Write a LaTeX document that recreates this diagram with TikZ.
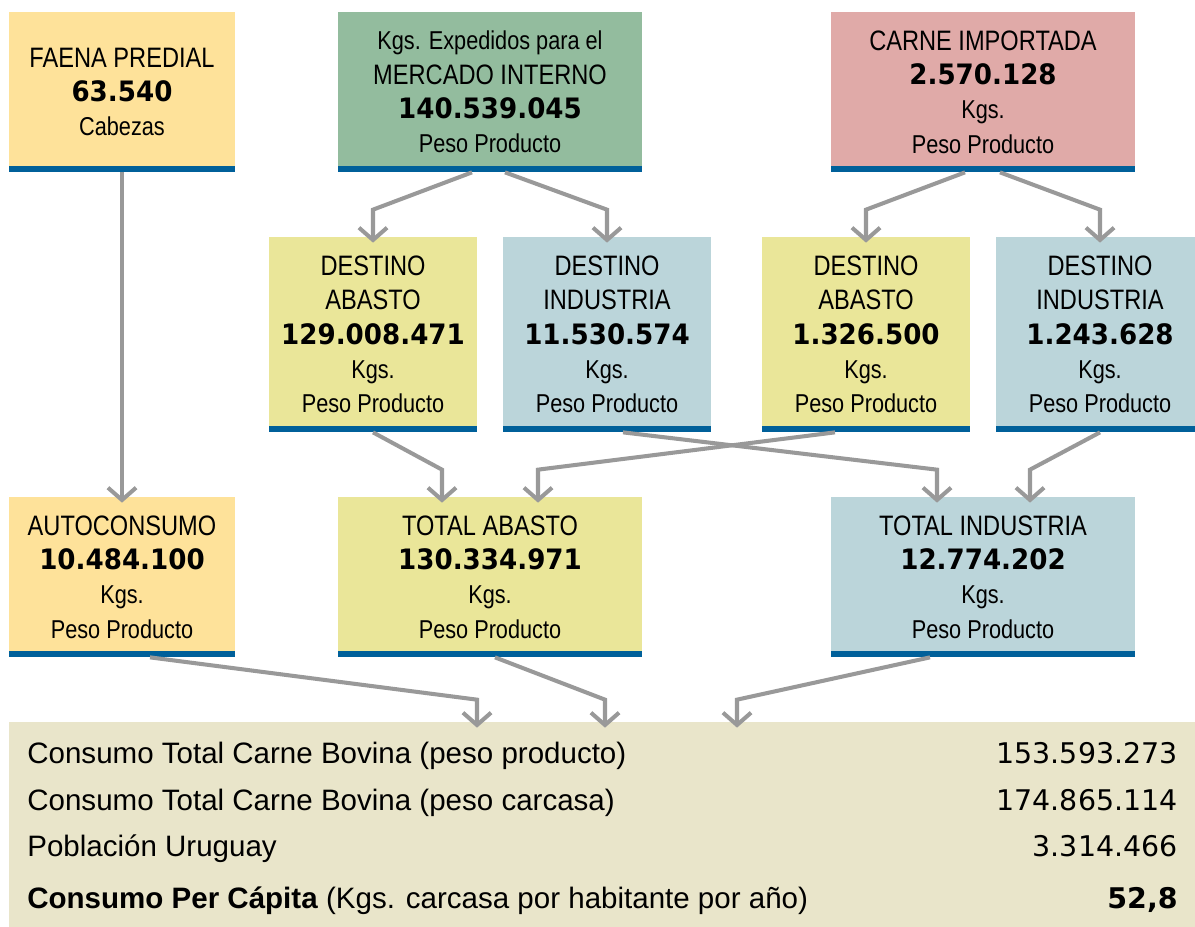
\documentclass[tikz,border=0pt]{standalone}
\usepackage{fontspec}
\setmainfont{Liberation Sans}[FakeStretch=0.84]
\newfontfamily\panelfont{Liberation Sans}
\newfontfamily\numfont{DejaVu Sans}[FakeStretch=0.93]
\newfontfamily\valfont{DejaVu Sans}
\usetikzlibrary{arrows.meta}

\definecolor{faenaorange}{HTML}{FEE29A}
\definecolor{mercgreen}{HTML}{93BC9E}
\definecolor{importpink}{HTML}{E0AAA8}
\definecolor{abastoyellow}{HTML}{EAE699}
\definecolor{indblue}{HTML}{BBD5DA}
\definecolor{barblue}{HTML}{00609A}
\definecolor{flowgray}{HTML}{999999}
\definecolor{panelbeige}{HTML}{E9E5CA}

\newcommand{\cifra}[1]{{\numfont\bfseries\fontsize{16}{19.5}\selectfont #1}}
\newcommand{\chico}{\fontsize{14.7}{19.5}\selectfont}

\tikzset{
  cuadro/.style={rectangle, inner sep=0pt, align=center,
    font=\fontsize{16}{19.5}\selectfont,
    path picture={\fill[barblue] (path picture bounding box.south west)
      rectangle ([yshift=0.12cm]path picture bounding box.south east);}},
  anchoA/.style={cuadro, minimum width=6.08cm, minimum height=3.2cm},
  anchoB/.style={cuadro, minimum width=4.16cm, minimum height=3.9cm},
  anchoC/.style={cuadro, minimum width=4.52cm, minimum height=3.2cm},
  flecha/.style={draw=flowgray, line width=2.3pt,
    -{Straight Barb[length=7pt,width=16pt]}},
  linea/.style={font=\panelfont\fontsize{16.8}{20}\selectfont, inner sep=0pt, anchor=base west},
  valor/.style={font=\valfont\fontsize{16.2}{20}\selectfont, inner sep=0pt, anchor=base east},
}

\begin{document}
\begin{tikzpicture}
\clip (0,0) rectangle (23.9,-18.52);

% fila superior
\node[anchoC, fill=faenaorange] (faena) at (2.44,-1.84)
  {FAENA PREDIAL\\\cifra{63.540}\\{\chico Cabezas}};
\node[anchoA, fill=mercgreen] (exped) at (9.8,-1.84)
  {{\chico Kgs. Expedidos para el}\\MERCADO INTERNO\\\cifra{140.539.045}\\{\chico Peso Producto}};
\node[anchoA, fill=importpink] (carne) at (19.66,-1.84)
  {CARNE IMPORTADA\\\cifra{2.570.128}\\{\chico Kgs.}\\{\chico Peso Producto}};

% destinos
\node[anchoB, fill=abastoyellow] (abastoA) at (7.46,-6.69)
  {DESTINO\\ABASTO\\\cifra{129.008.471}\\{\chico Kgs.}\\{\chico Peso Producto}};
\node[anchoB, fill=indblue] (induA) at (12.14,-6.69)
  {DESTINO\\INDUSTRIA\\\cifra{11.530.574}\\{\chico Kgs.}\\{\chico Peso Producto}};
\node[anchoB, fill=abastoyellow] (abastoB) at (17.32,-6.69)
  {DESTINO\\ABASTO\\\cifra{1.326.500}\\{\chico Kgs.}\\{\chico Peso Producto}};
\node[anchoB, fill=indblue] (induB) at (22.0,-6.69)
  {DESTINO\\INDUSTRIA\\\cifra{1.243.628}\\{\chico Kgs.}\\{\chico Peso Producto}};

% totales
\node[anchoC, fill=faenaorange] (auto) at (2.44,-11.54)
  {AUTOCONSUMO\\\cifra{10.484.100}\\{\chico Kgs.}\\{\chico Peso Producto}};
\node[anchoA, fill=abastoyellow] (totab) at (9.8,-11.54)
  {TOTAL ABASTO\\\cifra{130.334.971}\\{\chico Kgs.}\\{\chico Peso Producto}};
\node[anchoA, fill=indblue] (totind) at (19.66,-11.54)
  {TOTAL INDUSTRIA\\\cifra{12.774.202}\\{\chico Kgs.}\\{\chico Peso Producto}};

% consumo
\node[fill=panelbeige, inner sep=0pt, minimum width=23.9cm, minimum height=4.16cm] (panel) at (12.13,-16.52) {};

\node[linea] (consA) at (0.54,-15.27) {Consumo Total Carne Bovina (peso producto)};
\node[valor] (valA) at (23.56,-15.27) {153.593.273};
\node[linea] (consB) at (0.54,-16.2) {Consumo Total Carne Bovina (peso carcasa)};
\node[valor] (valB) at (23.56,-16.2) {174.865.114};
\node[linea] (pobl) at (0.54,-17.13) {Población Uruguay};
\node[valor] (valC) at (23.56,-17.13) {3.314.466};
\node[linea] (percap) at (0.54,-18.17) {\textbf{Consumo Per Cápita} (Kgs. carcasa por habitante por año)};
\node[valor] (valD) at (23.56,-18.17) {\bfseries 52,8};

% flechas
\draw[flecha] (faena.south) -- ([yshift=-0.12cm]auto.north);
\draw[flecha] ([xshift=-0.36cm]exped.south) -- ([yshift=0.54cm]abastoA.north) -- ([yshift=-0.12cm]abastoA.north);
\draw[flecha] ([xshift=0.3cm]exped.south) -- ([yshift=0.54cm]induA.north) -- ([yshift=-0.12cm]induA.north);
\draw[flecha] ([xshift=-0.36cm]carne.south) -- ([yshift=0.54cm]abastoB.north) -- ([yshift=-0.12cm]abastoB.north);
\draw[flecha] ([xshift=0.34cm]carne.south) -- ([yshift=0.54cm]induB.north) -- ([yshift=-0.12cm]induB.north);

\draw[flecha] (abastoA.south) -- ([xshift=-0.96cm,yshift=0.54cm]totab.north) -- ([xshift=-0.96cm,yshift=-0.12cm]totab.north);
\draw[flecha] ([xshift=-0.62cm]abastoB.south) -- ([xshift=0.96cm,yshift=0.54cm]totab.north) -- ([xshift=0.96cm,yshift=-0.12cm]totab.north);
\draw[flecha] ([xshift=0.32cm]induA.south) -- ([xshift=-0.92cm,yshift=0.54cm]totind.north) -- ([xshift=-0.92cm,yshift=-0.12cm]totind.north);
\draw[flecha] (induB.south) -- ([xshift=0.94cm,yshift=0.54cm]totind.north) -- ([xshift=0.94cm,yshift=-0.12cm]totind.north);

\draw[flecha] ([xshift=0.56cm]auto.south) -- ([xshift=-2.59cm,yshift=0.44cm]panel.north) -- ([xshift=-2.59cm,yshift=-0.12cm]panel.north);
\draw[flecha] ([xshift=0.1cm]totab.south) -- ([xshift=-0.03cm,yshift=0.44cm]panel.north) -- ([xshift=-0.03cm,yshift=-0.12cm]panel.north);
\draw[flecha] ([xshift=-1.06cm]totind.south) -- ([xshift=2.61cm,yshift=0.44cm]panel.north) -- ([xshift=2.61cm,yshift=-0.12cm]panel.north);

\end{tikzpicture}
\end{document}
